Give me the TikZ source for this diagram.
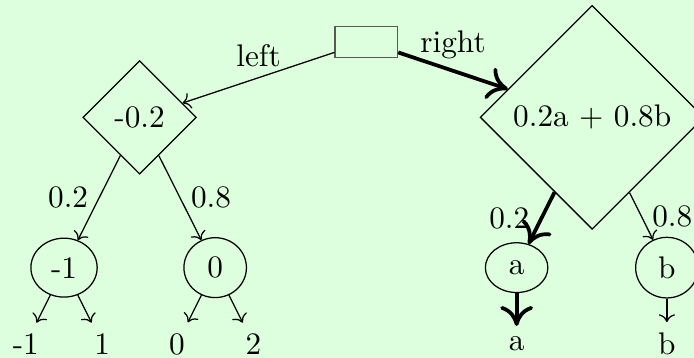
\documentclass[tikz,border=0pt]{standalone}
\usetikzlibrary{shapes.geometric,arrows.meta}
\definecolor{bgmint}{RGB}{221,255,221}
\begin{document}
\begin{tikzpicture}[
    decide/.style={draw,diamond},
    chance/.style={draw,ellipse,minimum width=20pt},
    best/.style={very thick,-{To[scale=1.5,width=7pt]}}
  ]
    \path[use as bounding box,fill=bgmint] (0,0) rectangle (7.805,-4.026);

    % root and the two choices
    \node[draw=black!65,minimum width=20pt,minimum height=10pt] (root) at (4.12,-0.47) {};
    \node[decide] (dl) at (1.57,-1.32) {-0.2};
    \node[decide] (dr) at (6.66,-1.32) {0.2a + 0.8b};

    \draw[->] (root) -- (dl) node[midway,above]{left};
    \draw[best] (root) -- (dr) node[midway,above]{right};

    % chance nodes
    \node[chance] (cl1) at (0.72,-3.01) {-1};
    \node[chance] (cl2) at (2.42,-3.01) {0};
    \node[chance] (cr1) at (5.81,-3.01) {a};
    \node[chance] (cr2) at (7.50,-3.01) {b};

    \draw[->] (dl) -- (cl1) node[midway,left]{0.2};
    \draw[->] (dl) -- (cl2) node[midway,right]{0.8};
    \draw[best] (dr) -- (cr1) node[midway,left]{0.2};
    \draw[->] (dr) -- (cr2) node[midway,right]{0.8};

    % outcomes
    \node (o1) at (0.29,-3.87) {-1};
    \node (o2) at (1.15,-3.87) {1};
    \node (o3) at (1.99,-3.87) {0};
    \node (o4) at (2.85,-3.87) {2};
    \node (o5) at (5.81,-3.87) {a};
    \node (o6) at (7.50,-3.87) {b};

    \draw[->] (cl1) -- (o1);
    \draw[->] (cl1) -- (o2);
    \draw[->] (cl2) -- (o3);
    \draw[->] (cl2) -- (o4);
    \draw[best] (cr1) -- (o5);
    \draw[->] (cr2) -- (o6);

  \end{tikzpicture}
\end{document}
